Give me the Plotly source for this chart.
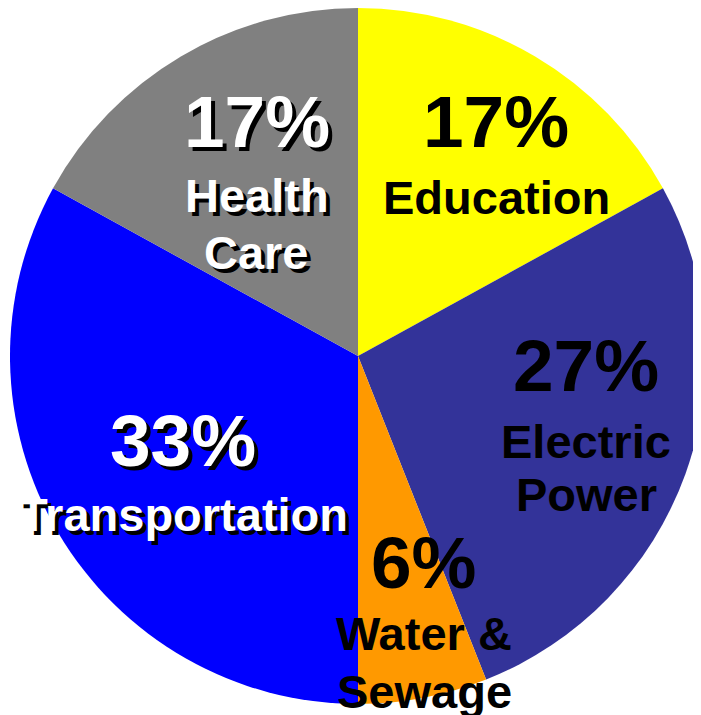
import plotly.graph_objects as go

# ---- data ----
categories = ["Education", "Electric Power", "Water & Sewage", "Transportation", "Health Care"]
values = [17, 27, 6, 33, 17]
label_lines = [["Education"], ["Electric", "Power"], ["Water &", "Sewage"], ["Transportation"], ["Health", "Care"]]

# ---- style ----
colors = ["#FFFF00", "#333399", "#FF9900", "#0000FF", "#808080"]
text_colors = ["black", "black", "black", "white", "white"]
shadows = ["none", "none", "none", "4px 4px 0px black", "4px 4px 0px black"]
W, H = 701, 715
OFF = 8  # page body margin offset
# label layout (screen pixel centers): x center, percent line y, first label line y, line step
label_pos = [
    (496, 121, 197, 56),
    (586, 365, 441, 53),
    (424, 562, 633, 58),
    (183, 440, 514, 56),
    (257, 121, 196, 56),
]
FF = "Liberation Sans, Arial, sans-serif"

fig = go.Figure(go.Pie(
    labels=categories,
    values=values,
    sort=False,
    direction="clockwise",
    rotation=0,
    marker=dict(colors=colors, line=dict(width=0)),
    textinfo="none",
    hoverinfo="label+percent",
    showlegend=False,
    domain=dict(x=[2 / W, 698 / W], y=[1 - 696 / H, 1.0]),
))

annotations = []
for i, v in enumerate(values):
    cx, py, ly, step = label_pos[i]
    cx -= OFF
    py -= OFF
    ly -= OFF
    annotations.append(dict(
        x=cx / W, y=1 - py / H, xref="paper", yref="paper",
        text=f"<b>{v}%</b>", showarrow=False, xanchor="center", yanchor="middle",
        font=dict(family=FF, size=73, color=text_colors[i], shadow=shadows[i]),
    ))
    for j, line in enumerate(label_lines[i]):
        annotations.append(dict(
            x=cx / W, y=1 - (ly + j * step) / H, xref="paper", yref="paper",
            text=f"<b>{line}</b>", showarrow=False, xanchor="center", yanchor="middle",
            font=dict(family=FF, size=47, color=text_colors[i], shadow=shadows[i]),
        ))

fig.update_layout(
    width=W, height=H,
    margin=dict(l=0, r=0, t=0, b=0),
    paper_bgcolor="white",
    plot_bgcolor="white",
    annotations=annotations,
)

fig.write_html("out.html")
